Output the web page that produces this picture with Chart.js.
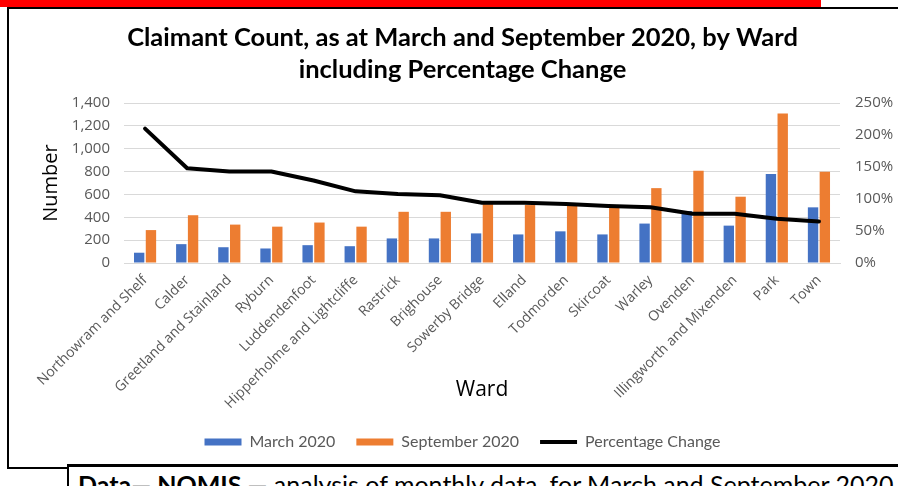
<!DOCTYPE html>
<html>
<head>
<meta charset="utf-8">
<script src="https://cdn.jsdelivr.net/npm/chart.js@4/dist/chart.umd.min.js"></script>
<style>
  body { margin: 0; width: 898px; height: 486px; overflow: hidden; position: relative; background: #fff; }
  #redbar { position: absolute; left: 0; top: 0; width: 821px; height: 7px; background: #ff0000; }
  #frame { position: absolute; left: 7px; top: 7px; width: 900px; height: 458px; border: 2px solid #000; border-right: none; }
  #wrap { position: absolute; left: 9px; top: 9px; width: 889px; height: 458px; }
  #caption { position: absolute; left: 67px; top: 464px; width: 840px; height: 40px; background: #fff;
             border-top: 3px solid #000; border-left: 2px solid #000; padding: 4px 0 0 9px;
             font-family: Lato, sans-serif; font-size: 25px; line-height: 26px; color: #000; white-space: nowrap; }
</style>
</head>
<body>
<div id="redbar"></div>
<div id="frame"></div>
<div id="wrap"><canvas id="claimantChart"></canvas></div>
<div id="caption"><b>Data— NOMIS —</b> analysis of monthly data, for March and September 2020</div>
<script>
// wards, sorted by percentage change
const wards = ['Northowram and Shelf', 'Calder', 'Greetland and Stainland', 'Ryburn', 'Luddendenfoot',
    'Hipperholme and Lightcliffe', 'Rastrick', 'Brighouse', 'Sowerby Bridge', 'Elland', 'Todmorden',
    'Skircoat', 'Warley', 'Ovenden', 'Illingworth and Mixenden', 'Park', 'Town'];
const march2020 = [90, 165, 138, 127, 156, 147, 215, 215, 259, 250, 277, 250, 345, 455, 327, 778, 487];
const september2020 = [288, 418, 336, 318, 354, 318, 448, 448, 515, 507, 525, 492, 655, 808, 580, 1309, 799];
const percentageChange = [210, 148, 143, 143, 129, 112, 108, 106, 94, 94, 92, 89, 87, 77, 77, 69, 65];

const tickColor = '#595959';
const gridColor = '#d9d9d9';

const ctx = document.getElementById('claimantChart').getContext('2d');
const claimantChart = new Chart(ctx, {
    type: 'bar',
    data: {
        labels: wards,
        datasets: [{
            label: 'March 2020',
            data: march2020,
            backgroundColor: '#4472c4',
            pointStyle: 'rect',
            yAxisID: 'y',
            order: 1
        }, {
            label: 'September 2020',
            data: september2020,
            backgroundColor: '#ed7d31',
            pointStyle: 'rect',
            yAxisID: 'y',
            order: 1
        }, {
            type: 'line',
            label: 'Percentage Change',
            data: percentageChange,
            borderColor: '#000',
            backgroundColor: '#000',
            borderWidth: 4,
            borderJoinStyle: 'round',
            borderCapStyle: 'round',
            pointRadius: 0,
            pointHoverRadius: 0,
            pointStyle: 'line',
            pointBorderWidth: 4,
            pointBorderColor: '#000',
            tension: 0,
            yAxisID: 'yPct',
            order: 0
        }]
    },
    options: {
        responsive: true,
        maintainAspectRatio: false,
        animation: false,
        datasets: {
            bar: { categoryPercentage: 0.56, barPercentage: 0.88 }
        },
        layout: { padding: { left: 18, right: 0, top: 0, bottom: 7 } },
        plugins: {
            title: {
                display: true,
                text: ['Claimant Count, as at March and September 2020, by Ward', 'including Percentage Change'],
                color: '#000',
                font: { family: 'Lato', size: 25.5, weight: 'bold', lineHeight: '32px' },
                padding: { top: 13, bottom: 17 }
            },
            legend: {
                position: 'bottom',
                labels: {
                    usePointStyle: true,
                    pointStyleWidth: 37,
                    boxHeight: 7,
                    padding: 21,
                    color: tickColor,
                    font: { family: 'Lato', size: 16 },
                    sort: (a, b) => a.datasetIndex - b.datasetIndex
                }
            },
            tooltip: { enabled: false }
        },
        scales: {
            x: {
                grid: { display: false },
                border: { display: true, color: gridColor },
                ticks: {
                    autoSkip: false,
                    maxRotation: 45,
                    minRotation: 45,
                    padding: 1,
                    color: tickColor,
                    font: { family: 'Open Sans', size: 14 }
                },
                title: {
                    display: true,
                    text: 'Ward',
                    color: '#000',
                    font: { family: 'Open Sans', size: 21 },
                    padding: { top: 0, bottom: 10 }
                },
                afterFit: (scale) => { scale.height = 150; }
            },
            y: {
                position: 'left',
                min: 0,
                max: 1400,
                grid: { color: gridColor, drawTicks: false },
                border: { display: false },
                ticks: {
                    stepSize: 200,
                    padding: 14,
                    color: tickColor,
                    font: { family: 'Open Sans', size: 15 }
                },
                title: {
                    display: true,
                    text: 'Number',
                    color: '#000',
                    font: { family: 'Open Sans', size: 20 },
                    padding: { top: 12, bottom: 0 }
                },
                afterFit: (scale) => { scale.width = 97; }
            },
            yPct: {
                position: 'right',
                min: 0,
                max: 250,
                grid: { drawOnChartArea: false, drawTicks: false },
                border: { display: false },
                ticks: {
                    stepSize: 50,
                    padding: 15,
                    color: tickColor,
                    font: { family: 'Open Sans', size: 15 },
                    callback: (v) => v + '%'
                },
                afterFit: (scale) => { scale.width = 58; }
            }
        }
    }
});
</script>
</body>
</html>
